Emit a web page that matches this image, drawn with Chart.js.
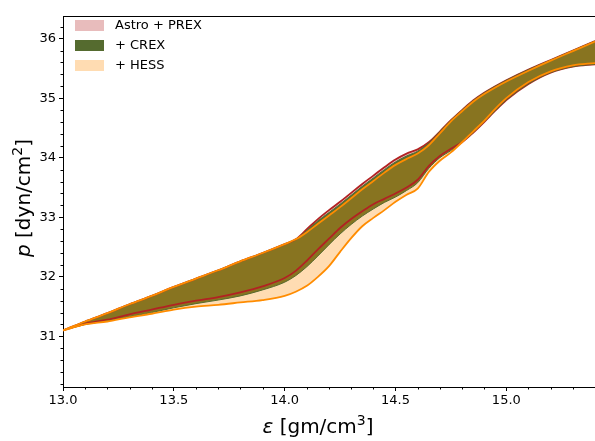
<!DOCTYPE html>
<html>
<head>
<meta charset="utf-8">
<script src="https://cdn.jsdelivr.net/npm/chart.js@4/dist/chart.umd.min.js"></script>
<style>
  html, body { margin: 0; padding: 0; background: #fff; overflow: hidden; }
  #wrap { width: 595px; height: 441px; }
</style>
</head>
<body>
<div id="wrap"><canvas id="c" width="595" height="441"></canvas></div>
<script>
// ---- data ----
const eps = [13.0, 13.1, 13.2, 13.3, 13.4, 13.5, 13.6, 13.7, 13.8, 13.9, 14.0, 14.05, 14.1, 14.15, 14.2, 14.25, 14.3, 14.35, 14.4, 14.45, 14.5, 14.55, 14.6, 14.65, 14.7, 14.75, 14.8, 14.85, 14.9, 14.95, 15.0, 15.1, 15.2, 15.3, 15.4];

const prexUpper = [31.10, 31.25, 31.39, 31.54, 31.68, 31.83, 31.97, 32.11, 32.26, 32.40, 32.55, 32.63, 32.80, 32.97, 33.12, 33.26, 33.41, 33.56, 33.70, 33.84, 33.97, 34.07, 34.14, 34.26, 34.44, 34.63, 34.80, 34.96, 35.09, 35.20, 35.30, 35.48, 35.64, 35.80, 35.96];
const prexLower = [31.10, 31.21, 31.28, 31.37, 31.45, 31.53, 31.60, 31.66, 31.74, 31.84, 31.98, 32.10, 32.27, 32.46, 32.64, 32.82, 32.97, 33.10, 33.22, 33.31, 33.40, 33.50, 33.63, 33.86, 34.03, 34.15, 34.26, 34.42, 34.60, 34.79, 34.97, 35.24, 35.43, 35.53, 35.57];

const crexUpper = [31.10, 31.25, 31.39, 31.54, 31.68, 31.83, 31.97, 32.11, 32.26, 32.40, 32.55, 32.63, 32.78, 32.94, 33.08, 33.22, 33.37, 33.52, 33.66, 33.80, 33.93, 34.03, 34.11, 34.25, 34.44, 34.63, 34.80, 34.96, 35.09, 35.20, 35.30, 35.48, 35.64, 35.80, 35.96];
const crexLower = [31.10, 31.20, 31.26, 31.33, 31.40, 31.48, 31.55, 31.61, 31.68, 31.78, 31.91, 32.02, 32.17, 32.35, 32.54, 32.72, 32.88, 33.02, 33.14, 33.25, 33.34, 33.45, 33.58, 33.82, 34.00, 34.12, 34.26, 34.42, 34.60, 34.79, 34.97, 35.24, 35.43, 35.53, 35.57];

const hessUpper = [31.10, 31.25, 31.39, 31.54, 31.68, 31.83, 31.97, 32.11, 32.26, 32.40, 32.55, 32.63, 32.75, 32.89, 33.03, 33.17, 33.32, 33.47, 33.61, 33.75, 33.88, 33.98, 34.07, 34.21, 34.41, 34.61, 34.78, 34.94, 35.07, 35.18, 35.28, 35.46, 35.63, 35.79, 35.95];
const hessLower = [31.10, 31.20, 31.25, 31.32, 31.38, 31.45, 31.50, 31.53, 31.57, 31.61, 31.68, 31.75, 31.85, 32.00, 32.18, 32.42, 32.65, 32.85, 32.99, 33.12, 33.26, 33.38, 33.48, 33.76, 33.95, 34.09, 34.26, 34.44, 34.62, 34.82, 35.00, 35.27, 35.45, 35.55, 35.59];

const seriesNames = ['Astro + PREX', '+ CREX', '+ HESS'];
const xTicks = [13.0, 13.5, 14.0, 14.5, 15.0];
const yTicks = [31, 32, 33, 34, 35, 36];

// ---- styling ----
const RED = '#b22222', RED_FILL = 'rgba(178,34,34,0.3)';
const GREEN = '#556b2f', GREEN_FILL = '#556b2f';
const ORANGE = '#ff8c00', ORANGE_FILL = 'rgba(255,140,0,0.3)';
const FONT = '"DejaVu Sans", sans-serif';

const pts = arr => eps.map((x, i) => ({ x: x, y: arr[i] }));
const lineDs = (label, data, color, fillColor, width, fill) => ({
  label, data: pts(data), borderColor: color, backgroundColor: fillColor,
  borderWidth: width, pointRadius: 0, fill: fill,
  cubicInterpolationMode: 'monotone'
});

// dataset index 0 is drawn last (on top)
const datasets = [
  lineDs(seriesNames[2], hessUpper, ORANGE, ORANGE_FILL, 1.8, '+1'),
  lineDs('hessLower', hessLower, ORANGE, ORANGE_FILL, 1.8, false),
  lineDs(seriesNames[1], crexUpper, GREEN, GREEN_FILL, 1.0, '+1'),
  lineDs('crexLower', crexLower, GREEN, GREEN_FILL, 1.0, false),
  lineDs(seriesNames[0], prexUpper, RED, RED_FILL, 1.8, '+1'),
  lineDs('prexLower', prexLower, RED, RED_FILL, 1.8, false)
];

const legendItems = [
  { text: seriesNames[0], color: RED_FILL },
  { text: seriesNames[1], color: GREEN_FILL },
  { text: seriesNames[2], color: ORANGE_FILL }
];

function drawParts(ctx, parts, x, y) {
  let total = 0;
  parts.forEach(p => { ctx.font = p.font; total += ctx.measureText(p.text).width; });
  let cx = x - total / 2;
  parts.forEach(p => {
    ctx.font = p.font;
    ctx.fillText(p.text, cx, y + (p.dy || 0));
    cx += ctx.measureText(p.text).width;
  });
}

const decor = {
  id: 'decor',
  afterDraw(chart) {
    const ctx = chart.ctx;
    const xs = chart.scales.x, ys = chart.scales.y;
    const a = chart.chartArea;
    ctx.save();
    ctx.strokeStyle = '#000';
    ctx.lineWidth = 1;
    // top spine
    ctx.beginPath();
    ctx.moveTo(a.left, a.top + 0.5);
    ctx.lineTo(a.right, a.top + 0.5);
    ctx.stroke();
    // minor ticks
    ctx.beginPath();
    for (let k = 0; k <= 24; k++) {
      const v = 13.0 + k * 0.1;
      if (k % 5 === 0) continue;
      const px = Math.round(xs.getPixelForValue(v)) + 0.5;
      if (px > a.right) continue;
      ctx.moveTo(px, a.bottom);
      ctx.lineTo(px, a.bottom + 2.5);
    }
    for (let k = 0; k <= 32; k++) {
      const v = 30.2 + k * 0.2;
      if (Math.abs(v - Math.round(v)) < 1e-6) continue;
      if (v > ys.max || v < ys.min) continue;
      const py = Math.round(ys.getPixelForValue(v)) + 0.5;
      ctx.moveTo(a.left, py);
      ctx.lineTo(a.left - 2.5, py);
    }
    ctx.stroke();

    // legend
    ctx.textBaseline = 'middle';
    ctx.textAlign = 'left';
    legendItems.forEach((it, i) => {
      const cy = 25.5 + i * 20;
      ctx.fillStyle = it.color;
      ctx.fillRect(75, cy - 5.5, 29, 11);
      ctx.fillStyle = '#000';
      ctx.font = '13px ' + FONT;
      ctx.fillText(it.text, 115, cy + 0.5);
    });

    // axis titles
    ctx.fillStyle = '#000';
    ctx.textBaseline = 'alphabetic';
    drawParts(ctx, [
      { text: 'ε', font: 'italic 20px ' + FONT },
      { text: ' [gm/cm', font: '20px ' + FONT },
      { text: '3', font: '14px ' + FONT, dy: -8 },
      { text: ']', font: '20px ' + FONT }
    ], 318, 433);

    ctx.translate(30, 198);
    ctx.rotate(-Math.PI / 2);
    drawParts(ctx, [
      { text: 'p', font: 'italic 20px ' + FONT },
      { text: ' [dyn/cm', font: '20px ' + FONT },
      { text: '2', font: '14px ' + FONT, dy: -8 },
      { text: ']', font: '20px ' + FONT }
    ], 0, 0);
    ctx.restore();
  }
};

new Chart(document.getElementById('c'), {
  type: 'line',
  data: { datasets },
  options: {
    responsive: false,
    animation: false,
    devicePixelRatio: 1,
    layout: { padding: { top: 16, left: 0, right: 0, bottom: 0 } },
    plugins: {
      legend: { display: false },
      tooltip: { enabled: false },
      filler: { drawTime: 'beforeDatasetsDraw', propagate: false }
    },
    scales: {
      x: {
        type: 'linear', min: 13.0, max: 15.4,
        afterBuildTicks: s => { s.ticks = xTicks.map(v => ({ value: v })); },
        afterFit: s => { s.height = 54; },
        ticks: { callback: v => Number(v).toFixed(1), color: '#000', font: { family: FONT, size: 13 }, padding: 2, maxRotation: 0, autoSkip: false },
        grid: { drawOnChartArea: false, drawTicks: true, tickLength: 4, tickColor: '#000' },
        border: { display: true, color: '#000', width: 1 }
      },
      y: {
        type: 'linear', min: 30.15, max: 36.38,
        afterBuildTicks: s => { s.ticks = yTicks.map(v => ({ value: v })); },
        afterFit: s => { s.width = 63; },
        ticks: { callback: v => String(v), color: '#000', font: { family: FONT, size: 13 }, padding: 3, autoSkip: false },
        grid: { drawOnChartArea: false, drawTicks: true, tickLength: 4, tickColor: '#000' },
        border: { display: true, color: '#000', width: 1 }
      }
    }
  },
  plugins: [decor]
});
</script>
</body>
</html>
